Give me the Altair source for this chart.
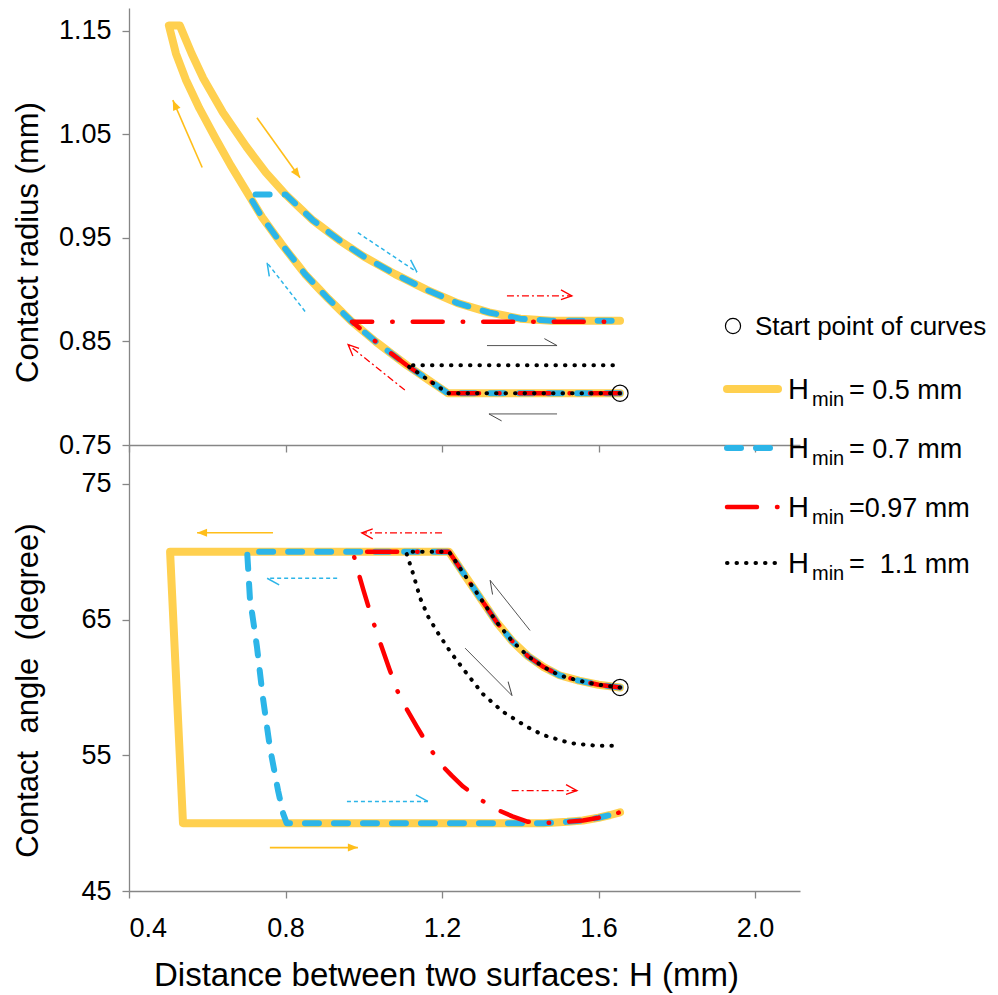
import math
import altair as alt
import pandas as pd

FONT = "Liberation Sans"

# ---------------- axes ----------------
H_TICKS = [0.4, 0.8, 1.2, 1.6, 2.0]
R_TICKS = [0.75, 0.85, 0.95, 1.05, 1.15]
A_TICKS = [45, 55, 65, 75]
X_DOMAIN = [0.4, 2.115]
R_DOMAIN = [0.75, 1.172]
A_DOMAIN = [45.0, 77.87]

SERIES = ["0.5", "0.7", "0.97", "1.1"]
LEGEND_VALUES = ["= 0.5 mm", "= 0.7 mm", "=0.97 mm", "=\u00a0 1.1 mm"]

# ---------------- contact radius (mm) ----------------
radius_flat_H = [1.655, 1.215]
radius_flat_R = [0.800, 0.800]
radius_adv_H = [1.110, 1.030, 0.970, 0.910, 0.850, 0.790, 0.740, 0.705, 0.660, 0.620, 0.580, 0.545, 0.520, 0.502]
radius_adv_R = [0.827, 0.850, 0.869, 0.891, 0.915, 0.944, 0.970, 0.992, 1.020, 1.047, 1.075, 1.103, 1.128, 1.155]
radius_rec_H = [0.530, 0.560, 0.590, 0.640, 0.700, 0.750, 0.800, 0.870, 0.940, 1.000, 1.080, 1.160, 1.240, 1.320, 1.400, 1.480, 1.655]
radius_rec_R = [1.155, 1.128, 1.104, 1.071, 1.038, 1.013, 0.992, 0.967, 0.947, 0.932, 0.915, 0.900, 0.887, 0.878, 0.872, 0.870, 0.870]
# pinned segments
red_pin_H, red_pin_R = [1.655], [0.869]
black_pin_H, black_pin_R = [1.650], [0.827]

# ---------------- contact angle (degree) ----------------
angle_adv_H = [1.655, 1.600, 1.550, 1.500, 1.460, 1.420, 1.380, 1.340, 1.300, 1.260, 1.218]
angle_adv_A = [60.0, 60.2, 60.5, 60.9, 61.5, 62.3, 63.4, 64.8, 66.5, 68.2, 70.0]
angle_tail_H = [1.460, 1.520, 1.560, 1.600, 1.630, 1.655]
angle_tail_A = [50.0, 50.1, 50.2, 50.4, 50.6, 50.8]
yellow_rec_H = [0.505, 0.538]
yellow_rec_A = [70.0, 50.0]
blue_rec_H = [0.702, 0.709, 0.727, 0.742, 0.760, 0.781, 0.794, 0.803]
blue_rec_A = [70.0, 66.6, 63.0, 59.3, 55.6, 52.4, 50.7, 50.0]
red_rec_H = [0.972, 0.985, 0.999, 1.020, 1.042, 1.065, 1.085, 1.110, 1.136, 1.165, 1.195, 1.225, 1.254, 1.300, 1.340, 1.380, 1.420]
red_rec_A = [70.0, 68.6, 67.2, 65.2, 63.3, 61.4, 59.8, 58.4, 57.1, 55.7, 54.4, 53.5, 52.7, 51.7, 51.0, 50.5, 50.1]
black_rec_H = [1.108, 1.126, 1.144, 1.165, 1.190, 1.222, 1.264, 1.305, 1.356, 1.417, 1.458, 1.527, 1.596, 1.650]
black_rec_A = [70.0, 68.4, 66.6, 65.2, 64.0, 62.6, 61.0, 59.5, 58.2, 57.1, 56.5, 55.9, 55.7, 55.7]

start_H, start_R, start_A = 1.655, 0.800, 60.0

# ---------------- direction arrows: (H1, v1, H2, v2, kind) ----------------
radius_arrows = [
    (0.587, 1.018, 0.512, 1.083, "0.5"),
    (0.727, 1.066, 0.837, 1.008, "0.5"),
    (0.985, 0.955, 1.136, 0.917, "0.7"),
    (0.850, 0.879, 0.753, 0.926, "0.7"),
    (1.105, 0.803, 0.960, 0.847, "0.97"),
    (1.366, 0.894, 1.532, 0.894, "0.97"),
    (1.315, 0.846, 1.494, 0.846, "1.1"),
    (1.494, 0.780, 1.320, 0.780, "1.1"),
]
angle_arrows = [
    (0.768, 71.4, 0.574, 71.4, "0.5"),
    (1.200, 71.4, 0.995, 71.4, "0.97"),
    (0.932, 68.05, 0.753, 68.05, "0.7"),
    (0.957, 51.6, 1.164, 51.6, "0.7"),
    (0.760, 48.2, 0.985, 48.2, "0.5"),
    (1.378, 52.4, 1.545, 52.4, "0.97"),
    (1.425, 64.2, 1.323, 67.9, "1.1"),
    (1.259, 62.9, 1.379, 59.4, "1.1"),
]

# ---------------- layout / styles ----------------
W = 671
H_TOP = 437
H_BOT = 446

LINE_STYLE = {
    "0.5": dict(color="#FFD04F", strokeWidth=8),
    "0.7": dict(color="#2CB5E8", strokeWidth=6, strokeDash=[14, 15]),
    "0.97": dict(color="#FF0000", strokeWidth=4.5, strokeDash=[30, 20, 0.5, 20]),
    "1.1": dict(color="#000000", strokeWidth=4, strokeDash=[0.5, 9]),
}
ARROW_STYLE = {
    "0.5": dict(color="#FFBE1A", strokeWidth=1.6),
    "0.7": dict(color="#2CB5E8", strokeWidth=1.5, strokeDash=[4, 3]),
    "0.97": dict(color="#FF0000", strokeWidth=1.3, strokeDash=[7, 3, 2, 3]),
    "1.1": dict(color="#555555", strokeWidth=1.0),
}
HEAD_STYLE = {
    "0.5": dict(shape="M0,0L-1,-0.4L-1,0.4Z", size=400, filled=True, color="#FFBE1A", strokeWidth=0),
    "0.7": dict(shape="M0,0L-1,-0.55", size=580, filled=False, color="#2CB5E8", strokeWidth=1.5),
    "0.97": dict(shape="M-1,-0.55L0,0L-1,0.35", size=480, filled=False, color="#FF0000", strokeWidth=1.3),
    "1.1": dict(shape="M0,0L-1,-0.55", size=640, filled=False, color="#444444", strokeWidth=1.0),
}


def path_df(Hs, Vs):
    return pd.DataFrame({"H": Hs, "v": Vs, "i": list(range(len(Hs)))})


def cut(Hs, Vs, last_H):
    k = Hs.index(last_H)
    return Hs[: k + 1], Vs[: k + 1]


# radius paths
aH, aR = radius_adv_H, radius_adv_R
radius_paths = {
    "0.5": (radius_flat_H + aH + radius_rec_H, radius_flat_R + aR + radius_rec_R),
}
bH, bR = cut(aH, aR, 0.705)
k = radius_rec_H.index(0.800)
radius_paths["0.7"] = (radius_flat_H + bH + radius_rec_H[k:], radius_flat_R + bR + radius_rec_R[k:])
rH, rR = cut(aH, aR, 0.970)
radius_paths["0.97"] = (radius_flat_H + rH + red_pin_H, radius_flat_R + rR + red_pin_R)
kH, kR = cut(aH, aR, 1.110)
radius_paths["1.1"] = (radius_flat_H + kH + black_pin_H, radius_flat_R + kR + black_pin_R)

angle_paths = {
    "0.5": (angle_adv_H + yellow_rec_H + angle_tail_H, angle_adv_A + yellow_rec_A + angle_tail_A),
    "0.7": (angle_adv_H + blue_rec_H + angle_tail_H, angle_adv_A + blue_rec_A + angle_tail_A),
    "0.97": (angle_adv_H + red_rec_H + angle_tail_H, angle_adv_A + red_rec_A + angle_tail_A),
    "1.1": (angle_adv_H + black_rec_H, angle_adv_A + black_rec_A),
}


def arrows_df(rows, vdom, hpx):
    xs = W / (X_DOMAIN[1] - X_DOMAIN[0])
    ys = hpx / (vdom[1] - vdom[0])
    recs = []
    for h1, v1, h2, v2, kind in rows:
        ang = math.degrees(math.atan2(-(v2 - v1) * ys, (h2 - h1) * xs)) % 360
        recs.append({"H": h1, "v": v1, "H2": h2, "v2": v2, "kind": kind, "ang": ang})
    return pd.DataFrame(recs)


def panel(paths, arrows, vdom, vticks, vfmt, vtitle, title_y, hpx, start_v, bottom):
    xscale = alt.Scale(domain=X_DOMAIN, nice=False, zero=False)
    yscale = alt.Scale(domain=vdom, nice=False, zero=False)
    if bottom:
        xaxis = alt.Axis(values=H_TICKS, format=".1f", title="Distance between two surfaces: H (mm)",
                         labelPadding=17, titleX=317, titleY=68, titleBaseline="top",
                         titleFontSize=33, titleAnchor="middle")
    else:
        xaxis = alt.Axis(values=H_TICKS, labels=False, title=None)
    yaxis = alt.Axis(values=vticks, format=vfmt, title=vtitle, labelPadding=11,
                     titleAngle=270, titleX=-92, titleY=title_y, titleBaseline="alphabetic",
                     titleAlign="center")

    def enc(xf="H", yf="v"):
        return dict(x=alt.X(f"{xf}:Q", scale=xscale, axis=xaxis),
                    y=alt.Y(f"{yf}:Q", scale=yscale, axis=yaxis))

    layers = []
    for s in SERIES:
        Hs, Vs = paths[s]
        layers.append(
            alt.Chart(path_df(Hs, Vs)).mark_line(strokeCap="round", strokeJoin="round", **LINE_STYLE[s])
            .encode(order="i:Q", **enc())
        )
    adf = arrows_df(arrows, vdom, hpx)
    for s in SERIES:
        sub = adf[adf["kind"] == s]
        if len(sub) == 0:
            continue
        layers.append(
            alt.Chart(sub).mark_rule(**ARROW_STYLE[s])
            .encode(x2="H2:Q", y2="v2:Q", **enc())
        )
        layers.append(
            alt.Chart(sub).mark_point(opacity=1, **HEAD_STYLE[s])
            .encode(angle=alt.Angle("ang:Q", scale=None), **enc("H2", "v2"))
        )
    layers.append(
        alt.Chart(pd.DataFrame({"H": [start_H], "v": [start_v]}))
        .mark_point(shape="circle", size=260, filled=False, color="#000000", strokeWidth=1.2, opacity=1)
        .encode(**enc())
    )
    return layers


top_layers = panel(radius_paths, radius_arrows, R_DOMAIN, R_TICKS, ".2f", "Contact radius (mm)",
                   234, H_TOP, start_R, False)
bot_layers = panel(angle_paths, angle_arrows, A_DOMAIN, A_TICKS, "d",
                   "Contact\u00a0 angle\u00a0 (degree)", 245, H_BOT, start_A, True)

# ---------------- custom legend (drawn in the top panel's pixel frame) ----------------
LEG_LINE_X0, LEG_LINE_X1 = 598, 649
LEG_H_X, LEG_MIN_X, LEG_EQ_X = 659, 683, 720
LEG_ROWS_Y = [381, 440, 499, 555]


def txt(t, x, y, size, baseline="alphabetic"):
    return alt.Chart(pd.DataFrame({"t": [t]})).mark_text(
        text=t, align="left", baseline=baseline, font=FONT, fontSize=size, color="#000000"
    ).encode(x=alt.value(x), y=alt.value(y))


legend_layers = [
    alt.Chart(pd.DataFrame({"t": ["o"]})).mark_point(
        shape="circle", size=230, filled=False, color="#000000", strokeWidth=1.2, opacity=1
    ).encode(x=alt.value(604), y=alt.value(318)),
    txt("Start point of curves", 626, 319, 26, "middle"),
]
for s, label, ly in zip(SERIES, LEGEND_VALUES, LEG_ROWS_Y):
    legend_layers.append(
        alt.Chart(pd.DataFrame({"t": [s]})).mark_rule(strokeCap="round", **LINE_STYLE[s])
        .encode(x=alt.value(LEG_LINE_X0), x2=alt.value(LEG_LINE_X1), y=alt.value(ly), y2=alt.value(ly))
    )
    legend_layers.append(txt("H", LEG_H_X, ly + 10, 29))
    legend_layers.append(txt("min", LEG_MIN_X, ly + 17, 20))
    legend_layers.append(txt(label, LEG_EQ_X, ly + 10, 27))

top = alt.layer(*(top_layers + legend_layers)).properties(width=W, height=H_TOP)
bottom = alt.layer(*bot_layers).properties(width=W, height=H_BOT)

chart = (
    alt.vconcat(top, bottom, spacing=0, bounds="flush")
    .properties(padding={"left": 4, "top": 0, "right": 2, "bottom": 2})
    .configure_view(stroke=None)
    .configure_axis(
        grid=False,
        domainColor="#868686", domainWidth=1.3,
        tickColor="#868686", tickWidth=1.3, tickSize=7,
        labelFont=FONT, labelFontSize=27, labelColor="#000000",
        titleFont=FONT, titleFontSize=31, titleColor="#000000", titleFontWeight="normal",
    )
)

chart.save("out.html", embed_options={"renderer": "svg", "actions": False})
